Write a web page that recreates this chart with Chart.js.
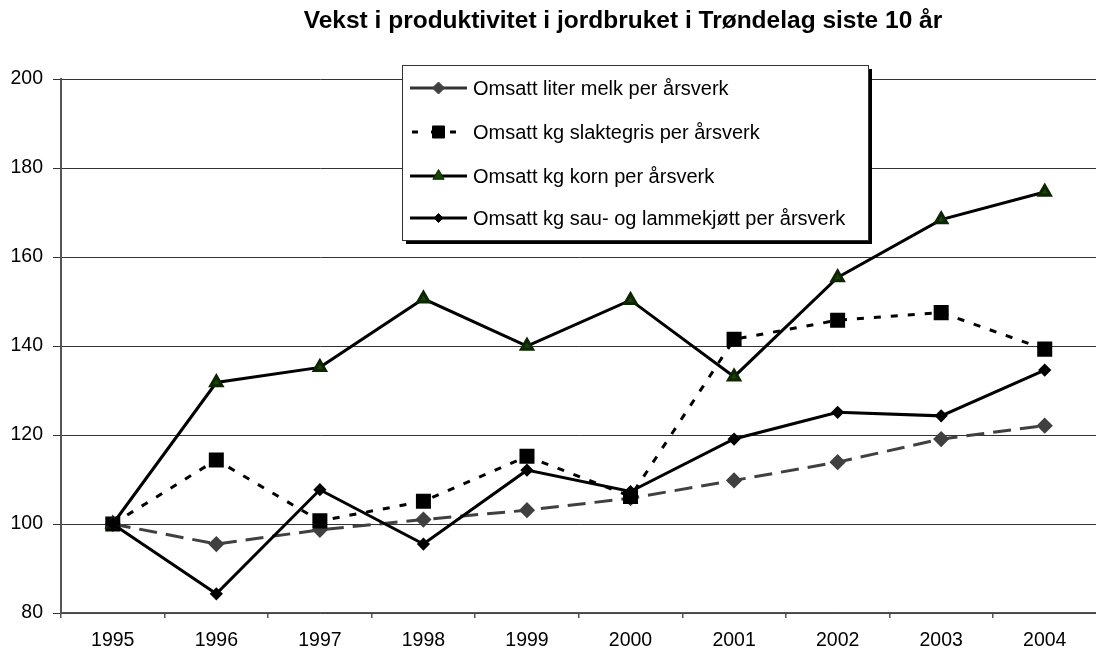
<!DOCTYPE html>
<html>
<head>
<meta charset="utf-8">
<script src="https://cdn.jsdelivr.net/npm/chart.js@4/dist/chart.umd.min.js"></script>
<style>
  html, body { margin: 0; padding: 0; background: #fff; }
  #wrap { width: 1096px; height: 650px; overflow: hidden; position: relative; background: #fff; }
  canvas { display: block; }
</style>
</head>
<body>
<div id="wrap"><canvas id="c" width="1108" height="650" style="width:1108px;height:650px"></canvas></div>
<script>
const chartTitle = 'Vekst i produktivitet i jordbruket i Trøndelag siste 10 år';
const years = ['1995', '1996', '1997', '1998', '1999', '2000', '2001', '2002', '2003', '2004'];
const melk = [100, 95.5, 98.7, 101.0, 103.1, 105.8, 109.8, 113.9, 119.1, 122.1];
const slaktegris = [100, 114.4, 100.7, 105.1, 115.2, 106.2, 141.5, 145.8, 147.5, 139.3];
const korn = [100, 131.8, 135.2, 150.6, 140.0, 150.3, 133.1, 155.4, 168.4, 174.6];
const sau = [100, 84.3, 107.7, 95.5, 112.1, 107.3, 119.1, 125.1, 124.3, 134.6];
const seriesNames = [
  'Omsatt liter melk per årsverk',
  'Omsatt kg slaktegris per årsverk',
  'Omsatt kg korn per årsverk',
  'Omsatt kg sau- og lammekjøtt per årsverk'
];
const yMin = 80, yMax = 200, yStep = 20;

const FONT = '"Liberation Sans", Arial, sans-serif';

function drawMarker(ctx, style, x, y, r, fill, stroke) {
  ctx.save();
  ctx.setLineDash([]);
  ctx.fillStyle = fill;
  ctx.strokeStyle = stroke;
  ctx.lineWidth = 1;
  ctx.beginPath();
  if (style === 'rect') {
    const s = r * Math.SQRT1_2;
    ctx.rect(x - s, y - s, 2 * s, 2 * s);
  } else if (style === 'rectRot') {
    ctx.moveTo(x, y - r); ctx.lineTo(x + r, y); ctx.lineTo(x, y + r); ctx.lineTo(x - r, y);
    ctx.closePath();
  } else if (style === 'triangle') {
    let rad = 0;
    ctx.moveTo(x + Math.sin(rad) * r, y - Math.cos(rad) * r);
    rad += 2 * Math.PI / 3;
    ctx.lineTo(x + Math.sin(rad) * r, y - Math.cos(rad) * r);
    rad += 2 * Math.PI / 3;
    ctx.lineTo(x + Math.sin(rad) * r, y - Math.cos(rad) * r);
    ctx.closePath();
  }
  ctx.fill();
  ctx.stroke();
  ctx.restore();
}

const overlayPlugin = {
  id: 'overlay',
  afterDraw(chart) {
    const ctx = chart.ctx;
    // Title
    ctx.save();
    ctx.fillStyle = '#000';
    ctx.font = 'bold 24.5px ' + FONT;
    ctx.textAlign = 'center';
    ctx.textBaseline = 'middle';
    ctx.fillText(chartTitle, 623, 21);
    ctx.restore();

    // Legend box
    const bx = 402, by = 65, bw = 466, bh = 175;
    ctx.save();
    ctx.fillStyle = '#000';
    ctx.fillRect(bx + 4, by + 4, bw, bh);
    ctx.fillStyle = '#fff';
    ctx.fillRect(bx, by, bw, bh);
    ctx.strokeStyle = '#333';
    ctx.lineWidth = 1;
    ctx.strokeRect(bx + 0.5, by + 0.5, bw, bh);
    ctx.restore();

    const rows = [88, 132, 176, 218];
    const x0 = 410, x1 = 467, xm = 438.5;
    chart.data.datasets.forEach((ds, i) => {
      const li = ds.legendIndex;
      const y = rows[li];
      ctx.save();
      ctx.strokeStyle = li === 0 ? '#333' : '#000';
      ctx.lineWidth = 3;
      ctx.beginPath();
      if (li === 1) {
        ctx.setLineDash([6, 13]);
        ctx.moveTo(412, y); ctx.lineTo(462, y);
      } else {
        ctx.moveTo(x0, y); ctx.lineTo(x1, y);
      }
      ctx.stroke();
      ctx.restore();
      drawMarker(ctx, ds.pointStyle, xm, y, ds.pointRadius, ds.pointBackgroundColor, ds.pointBorderColor);
      ctx.save();
      ctx.fillStyle = '#000';
      ctx.font = '20px ' + FONT;
      ctx.textAlign = 'left';
      ctx.textBaseline = 'middle';
      ctx.fillText(ds.label, 473, y + 1);
      ctx.restore();
    });
  }
};

const ctx = document.getElementById('c').getContext('2d');
new Chart(ctx, {
  type: 'line',
  data: {
    labels: years,
    datasets: [
      {
        label: seriesNames[0], legendIndex: 0, order: 4,
        data: melk,
        borderColor: '#404040', borderWidth: 3, borderDash: [18, 9],
        pointStyle: 'rectRot', pointRadius: 6,
        pointBackgroundColor: '#404040', pointBorderColor: '#404040',
        tension: 0, fill: false
      },
      {
        label: seriesNames[1], legendIndex: 1, order: 3,
        data: slaktegris,
        borderColor: '#000', borderWidth: 3, borderDash: [7, 10],
        pointStyle: 'rect', pointRadius: 8.5,
        pointBackgroundColor: '#000', pointBorderColor: '#000',
        tension: 0, fill: false
      },
      {
        label: seriesNames[2], legendIndex: 2, order: 2,
        data: korn,
        borderColor: '#000', borderWidth: 3,
        pointStyle: 'triangle', pointRadius: 6.5,
        pointBackgroundColor: '#1a4400', pointBorderColor: '#0b2600',
        tension: 0, fill: false
      },
      {
        label: seriesNames[3], legendIndex: 3, order: 1,
        data: sau,
        borderColor: '#000', borderWidth: 3,
        pointStyle: 'rectRot', pointRadius: 4.5,
        pointBackgroundColor: '#000', pointBorderColor: '#000',
        tension: 0, fill: false
      }
    ]
  },
  options: {
    responsive: false,
    devicePixelRatio: 1,
    animation: false,
    events: [],
    layout: { padding: { top: 79, right: 0, bottom: 0, left: 0 } },
    plugins: {
      legend: { display: false },
      title: { display: false },
      tooltip: { enabled: false }
    },
    scales: {
      x: {
        type: 'category',
        offset: true,
        grid: {
          offset: true,
          drawOnChartArea: false,
          drawTicks: true,
          tickLength: 5,
          color: '#555',
          lineWidth: 1.5
        },
        border: { display: true, color: '#555', width: 1.5 },
        ticks: {
          color: '#000',
          font: { family: FONT, size: 19.5 },
          padding: 11,
          maxRotation: 0,
          autoSkip: false
        },
        afterFit(scale) { scale.height = 37; }
      },
      y: {
        min: yMin, max: yMax,
        grid: {
          color: '#333',
          lineWidth: 1,
          drawTicks: true,
          tickLength: 8
        },
        border: { display: true, color: '#555', width: 2 },
        ticks: {
          stepSize: yStep,
          color: '#000',
          font: { family: FONT, size: 19.5 },
          padding: 10
        },
        afterFit(scale) { scale.width = 61; }
      }
    }
  },
  plugins: [overlayPlugin]
});
</script>
</body>
</html>
